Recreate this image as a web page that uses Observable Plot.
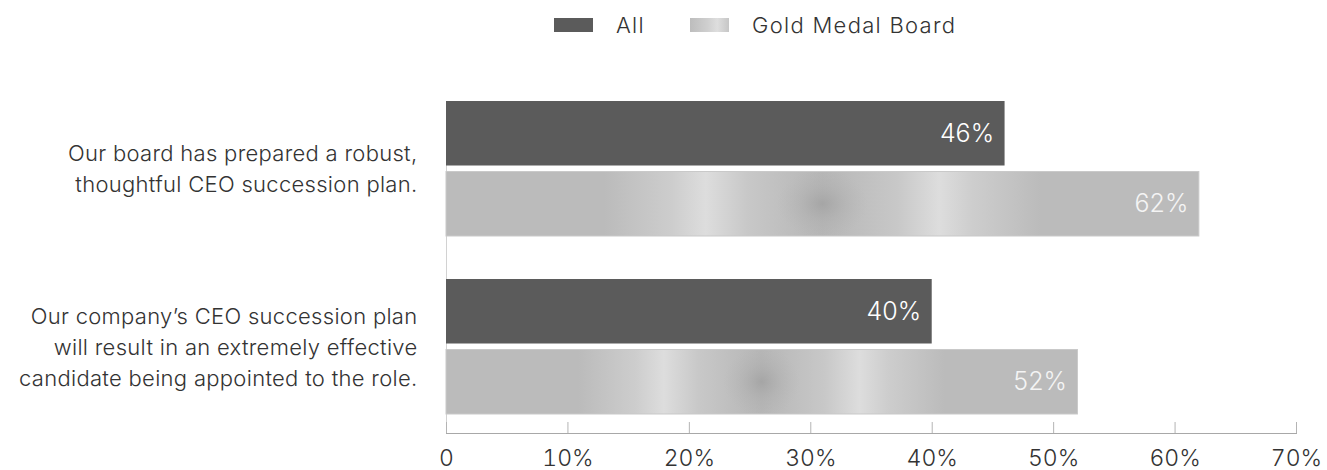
<!DOCTYPE html>
<html><head><meta charset="utf-8">
<script src="https://cdn.jsdelivr.net/npm/d3@7"></script>
<script src="https://cdn.jsdelivr.net/npm/@observablehq/plot@0.6"></script>
<style>
body{margin:0;background:#fff;font-family:Inter,"Open Sans",sans-serif;}
#legend{position:relative;height:50px;width:1327px;font-size:22px;color:#333;letter-spacing:1.3px;font-weight:300;}
#legend .sw{position:absolute;top:18px;width:39px;height:14px;}
#legend .lb{position:absolute;top:11px;line-height:28px;}
#chart{width:1327px;height:420px;}
</style></head><body>
<div id="legend">
  <div class="sw" style="left:554px;background:#5b5b5b"></div>
  <div class="lb" style="left:616px">All</div>
  <div class="sw" style="left:690px;background:linear-gradient(90deg,#bdbdbd,#cfcfcf 45%,#dedede 70%,#c6c6c6)"></div>
  <div class="lb" style="left:752px">Gold Medal Board</div>
</div>
<div id="chart"></div>
<script>
const questions = [
  "Our board has prepared a robust,\nthoughtful CEO succession plan.",
  "Our company’s CEO succession plan\nwill result in an extremely effective\ncandidate being appointed to the role."
];
const allValues = [46, 40];
const goldValues = [62, 52];
const xTicks = [0, 10, 20, 30, 40, 50, 60, 70];

const allRows = questions.map((q, i) => ({question: q, value: allValues[i]}));
const goldRows = questions.map((q, i) => ({question: q, value: goldValues[i]}));

const H = 420, MT = 51, MB = 37;
const barInset = 70.5;

const chart = Plot.plot({
  width: 1327, height: H,
  marginTop: MT, marginBottom: MB, marginLeft: 446, marginRight: 31,
  style: {fontFamily: "Inter, 'Open Sans', sans-serif", color: "#333", background: "#fff", overflow: "visible", fontWeight: 300},
  x: {domain: [0, 70], label: null},
  y: {domain: questions, paddingInner: 0.239, paddingOuter: 0.052, align: 0, label: null},
  marks: [
    Plot.ruleX([0], {stroke: "#d2d2d2"}),
    Plot.barX(allRows, {x: "value", y: "question", fill: "#5b5b5b", insetBottom: barInset}),
    Plot.barX(goldRows, {x: "value", y: "question", fill: "url(#goldGrad)", insetTop: barInset, stroke: "#c9c9c9", strokeWidth: 1}),
    Plot.barX(goldRows, {x: "value", y: "question", fill: "url(#goldSpot)", insetTop: barInset + 1, insetBottom: 1}),
    Plot.text(allRows, {x: "value", y: "question", text: d => d.value + "%", dy: -35.25, dx: -11, textAnchor: "end", fill: "#ffffff", fontSize: 25, fontWeight: 300}),
    Plot.text(goldRows, {x: "value", y: "question", text: d => d.value + "%", dy: 35.25, dx: -11, textAnchor: "end", fill: "#f4f4f4", fontSize: 25, fontWeight: 300}),
    Plot.tickX(xTicks, {x: d => d, stroke: "#b4b4b4", insetTop: H - MT - MB - 11}),
    Plot.frame({anchor: "bottom", stroke: "#a8a8a8"}),
    Plot.axisX({ticks: xTicks, tickSize: 0, tickPadding: 16, fontSize: 23, fill: "#333", label: null, tickFormat: d => d === 0 ? "0" : d + "%"}),
    Plot.axisY({tickSize: 0, tickPadding: 29, fontSize: 22, lineHeight: 1.4, fill: "#333", label: null, dy: -2})
  ]
});

const svg = d3.select(chart);
svg.selectAll("g[aria-label='y-axis tick label'] text").style("letter-spacing", "0.3px");
const defs = svg.insert("defs", ":first-child");
const lg = defs.append("linearGradient").attr("id", "goldGrad").attr("x1", 0).attr("x2", 1).attr("y1", 0).attr("y2", 0);
[
  [0, "#bbbbbb"], [0.21, "#bbbbbb"], [0.25, "#c3c3c3"], [0.3, "#cdcdcd"], [0.345, "#dddddd"],
  [0.4, "#c8c8c8"], [0.46, "#bdbdbd"], [0.5, "#b6b6b6"], [0.54, "#bdbdbd"], [0.6, "#c8c8c8"],
  [0.655, "#dddddd"], [0.7, "#cdcdcd"], [0.75, "#c3c3c3"], [0.79, "#bbbbbb"], [1, "#bbbbbb"]
].forEach(([o, c]) => lg.append("stop").attr("offset", o).attr("stop-color", c));
const rg = defs.append("radialGradient").attr("id", "goldSpot")
  .attr("cx", 0.5).attr("cy", 0.5).attr("r", 0.5)
  .attr("gradientTransform", "translate(0.5,0.5) scale(0.12,1.1) translate(-0.5,-0.5)");
rg.append("stop").attr("offset", 0).attr("stop-color", "#9e9e9e").attr("stop-opacity", 0.7);
rg.append("stop").attr("offset", 0.5).attr("stop-color", "#a8a8a8").attr("stop-opacity", 0.3);
rg.append("stop").attr("offset", 1).attr("stop-color", "#b0b0b0").attr("stop-opacity", 0);

document.getElementById("chart").appendChild(chart);
</script>
</body></html>
